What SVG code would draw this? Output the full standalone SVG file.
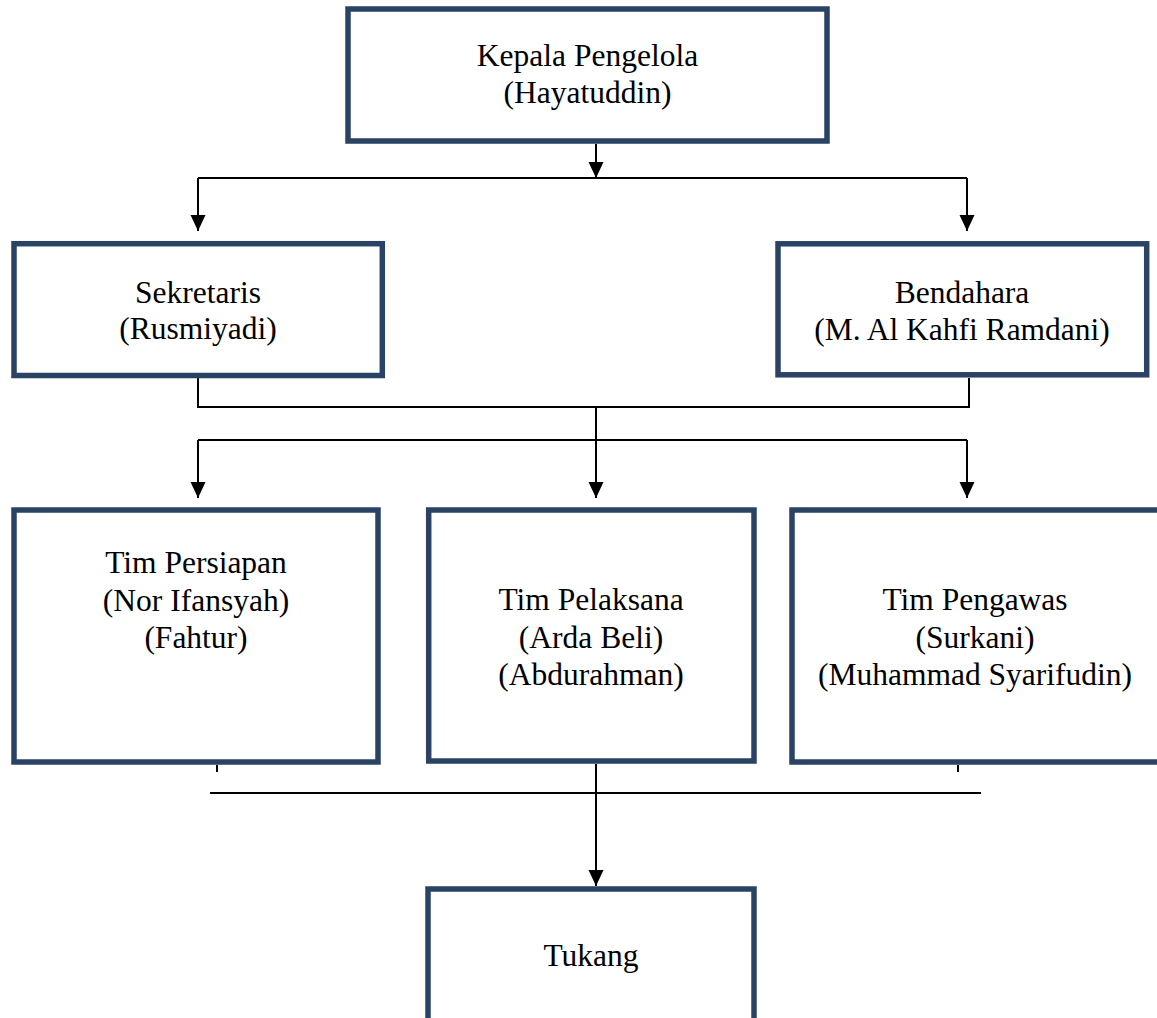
<svg xmlns="http://www.w3.org/2000/svg" width="1157" height="1018" viewBox="0 0 1157 1018">
<defs>
<style>
.box{fill:#ffffff;stroke:#2a4365;stroke-width:5.5}
.lbl{font-family:"Liberation Serif","Times New Roman",serif;font-size:31.5px;fill:#000000;text-anchor:middle}
.ln{fill:none;stroke:#000000;stroke-width:2}
.arr{fill:none;stroke:#000000;stroke-width:2;marker-end:url(#ah)}
</style>
<marker id="ah" viewBox="0 0 16 16" refX="16" refY="8" markerWidth="16" markerHeight="16" markerUnits="userSpaceOnUse" orient="auto">
<path d="M0,0.5 L16,8 L0,15.5 Z" fill="#000000"/>
</marker>
</defs>
<rect width="1157" height="1018" fill="#ffffff"/>
<g id="connectors">
<path class="arr" d="M596,144 V178"/>
<path class="ln" d="M198,178 H967"/>
<path class="arr" d="M198,178 V231"/>
<path class="arr" d="M967,178 V231"/>
<path class="ln" d="M198,378 V407 H969 V378"/>
<path class="arr" d="M596,407 V498"/>
<path class="ln" d="M198,440 H967"/>
<path class="arr" d="M198,440 V498"/>
<path class="arr" d="M967,440 V498"/>
<path class="ln" d="M217,765 V772"/>
<path class="ln" d="M958,765 V772"/>
<path class="ln" d="M210,793 H981"/>
<path class="arr" d="M596,764 V886"/>
</g>
<g id="kepala">
<rect class="box" x="348" y="9" width="479" height="132"/>
<text class="lbl" x="587.5" y="66">Kepala Pengelola</text>
<text class="lbl" x="587.5" y="103">(Hayatuddin)</text>
</g>
<g id="sekretaris">
<rect class="box" x="14" y="243.7" width="368.3" height="131.8"/>
<text class="lbl" x="198" y="302.7">Sekretaris</text>
<text class="lbl" x="198" y="339.3">(Rusmiyadi)</text>
</g>
<g id="bendahara">
<rect class="box" x="778" y="243.8" width="368.7" height="131"/>
<text class="lbl" x="962" y="302.7">Bendahara</text>
<text class="lbl" x="962" y="340">(M. Al Kahfi Ramdani)</text>
</g>
<g id="tim-persiapan">
<rect class="box" x="14" y="510" width="364" height="252"/>
<text class="lbl" x="196" y="573">Tim Persiapan</text>
<text class="lbl" x="196" y="611">(Nor Ifansyah)</text>
<text class="lbl" x="196" y="648">(Fahtur)</text>
</g>
<g id="tim-pelaksana">
<rect class="box" x="428.7" y="510" width="325.3" height="251"/>
<text class="lbl" x="591" y="610">Tim Pelaksana</text>
<text class="lbl" x="591" y="647.5">(Arda Beli)</text>
<text class="lbl" x="591" y="685">(Abdurahman)</text>
</g>
<g id="tim-pengawas">
<rect class="box" x="792" y="510" width="368" height="252"/>
<text class="lbl" x="975" y="610">Tim Pengawas</text>
<text class="lbl" x="975" y="647.5">(Surkani)</text>
<text class="lbl" x="975" y="685">(Muhammad Syarifudin)</text>
</g>
<g id="tukang">
<rect class="box" x="428" y="889" width="326" height="200"/>
<text class="lbl" x="591" y="966">Tukang</text>
</g>
</svg>
